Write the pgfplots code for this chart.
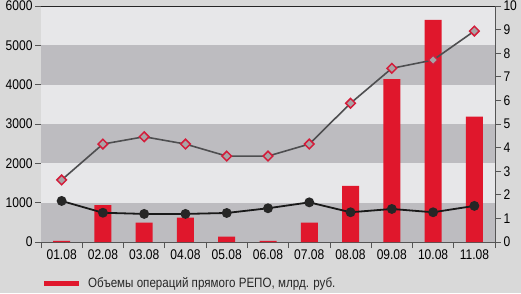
\documentclass[border=0pt]{standalone}
\usepackage{pgfplots}
\pgfplotsset{compat=1.18}
\usepackage{fontspec}
\setmainfont{Liberation Sans}[FakeStretch=0.86]
\definecolor{bgc}{HTML}{D9D9D9}
\definecolor{lightband}{HTML}{E7E7E9}
\definecolor{darkband}{HTML}{BDBCC0}
\definecolor{barred}{HTML}{E0172C}
\definecolor{diared}{HTML}{D41C3A}
\definecolor{diafill}{HTML}{A8A4A6}
\definecolor{linegray}{HTML}{4E4E50}
\definecolor{axgray}{HTML}{555555}
\begin{document}
\begin{tikzpicture}[x=1pt,y=1pt]
\path[use as bounding box, fill=bgc] (0,0) rectangle (521,293);
\pgfplotsset{
  base/.style={
    scale only axis, width=454pt, height=236pt,
    at={(41pt,51pt)}, anchor=south west,
    xmin=-0.5, xmax=10.5,
    tick label style={font=\fontsize{14}{14}\selectfont},
    /pgf/number format/assume math mode=true,
    /pgf/number format/1000 sep={},
    major tick length=6pt,
    tick style={axgray, line width=0.8pt},
  }
}
\begin{axis}[base,
  ymin=0, ymax=6000,
  ytick={0,1000,...,6000},
  axis y line*=left,
  axis x line*=bottom,
  axis line style={axgray, line width=1pt},
  xtick={-0.5,0.5,1.5,2.5,3.5,4.5,5.5,6.5,7.5,8.5,9.5,10.5},
  xticklabels={},
  extra x ticks={0,1,2,3,4,5,6,7,8,9,10},
  extra x tick labels={01.08,02.08,03.08,04.08,05.08,06.08,07.08,08.08,09.08,10.08,11.08},
  extra x tick style={major tick length=0pt, xticklabel style={yshift=-4pt}},
  tick align=outside,
  yticklabel style={xshift=1pt},
  ytick pos=left,
  xtick pos=bottom,
  clip=false,
]
\fill[lightband] (axis cs:-0.5,0) rectangle (axis cs:10.5,6000);
\fill[darkband] (axis cs:-0.5,0) rectangle (axis cs:10.5,1000);
\fill[darkband] (axis cs:-0.5,2000) rectangle (axis cs:10.5,3000);
\fill[darkband] (axis cs:-0.5,4000) rectangle (axis cs:10.5,5000);
\draw[black!85, line width=1pt] (axis cs:-0.5,6000) -- (axis cs:10.5,6000);
\addplot[ybar, bar width=17pt, fill=barred, draw=none] coordinates {
 (0,30) (1,940) (2,490) (3,620) (4,135) (5,30) (6,490) (7,1425) (8,4140) (9,5650) (10,3190)};
\end{axis}
\begin{axis}[base,
  ymin=0, ymax=10,
  ytick={0,1,...,10},
  axis y line*=right,
  axis x line=none,
  axis line style={axgray, line width=1pt},
  tick align=outside,
  yticklabel style={xshift=-1pt},
]
\addplot[linegray, line width=1.6pt, mark=square*, mark size=3.4pt,
  mark options={rotate=45, fill=diafill, draw=diared, line width=1.5pt}] coordinates {
 (0,2.63) (1,4.15) (2,4.46) (3,4.15) (4,3.64) (5,3.64) (6,4.15) (7,5.88) (8,7.36) (9,7.71) (10,8.94)};
\addplot[black!90, line width=1.8pt, mark=*, mark size=4pt,
  mark options={fill=black!85, draw=black!85}] coordinates {
 (0,1.74) (1,1.24) (2,1.19) (3,1.19) (4,1.23) (5,1.43) (6,1.68) (7,1.26) (8,1.40) (9,1.26) (10,1.53)};
\end{axis}
\fill[barred] (44,7) rectangle (79,12);
\node[anchor=west, inner sep=0pt, font=\fontsize{13.5}{13.5}\selectfont, text=black!85] at (88,9.5) {Объемы операций прямого РЕПО, млрд. руб.};
\end{tikzpicture}
\end{document}
